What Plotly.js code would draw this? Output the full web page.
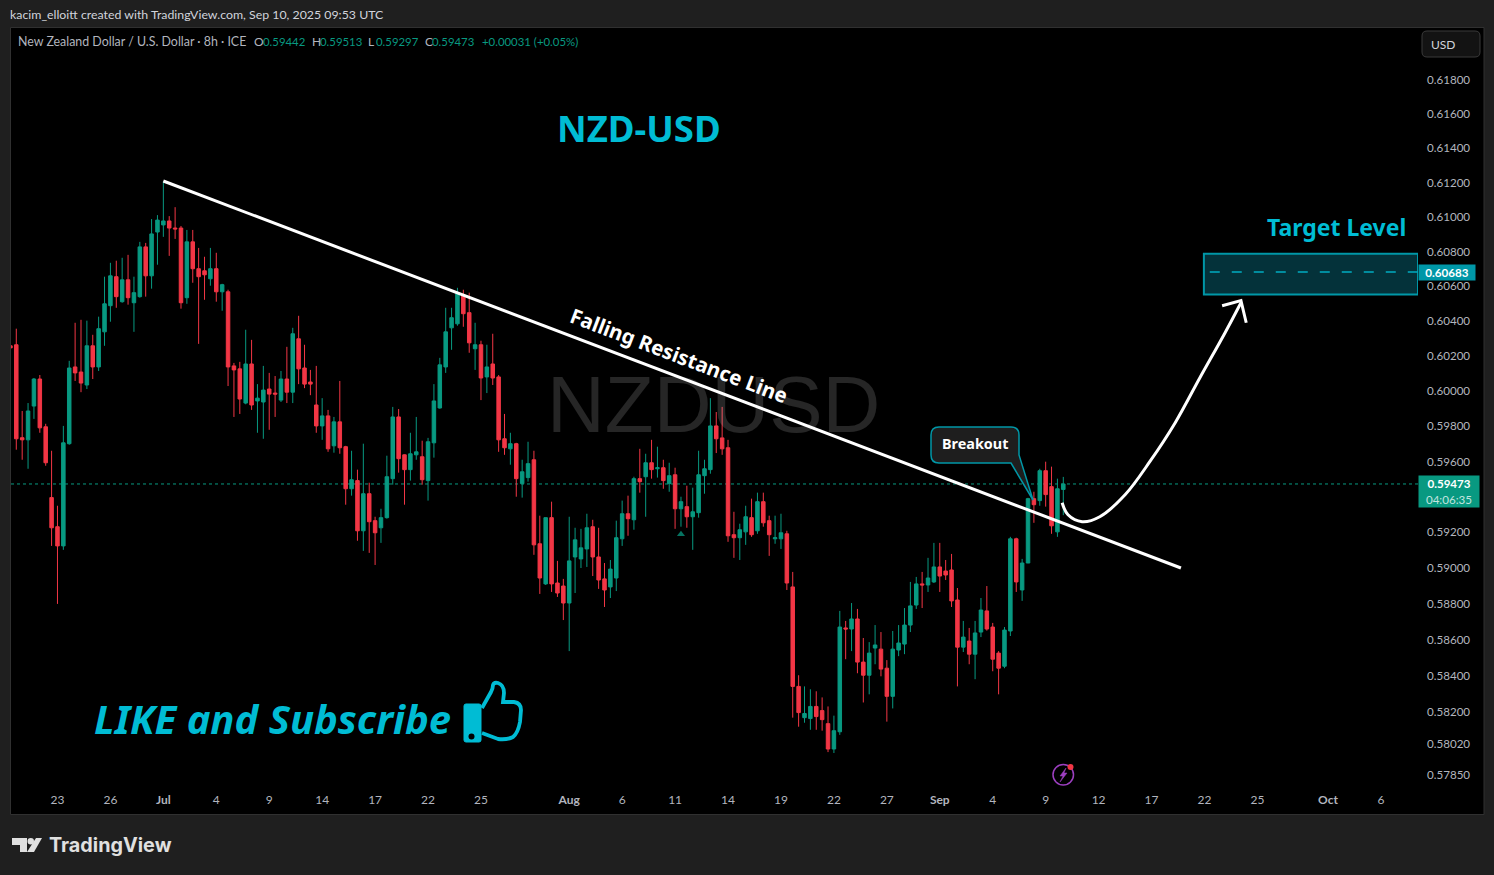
<!DOCTYPE html>
<html>
<head>
<meta charset="utf-8">
<title>NZD-USD</title>
<script src="https://cdn.plot.ly/plotly-3.0.1.min.js"></script>
<style>
html, body { margin: 0; padding: 0; background: #1f1f1f; }
#chart_holder { width: 1494px; height: 875px; }
</style>
</head>
<body>
<div id="chart_holder"></div>
<script>
// 8h candles, oldest first
let opens = [
0.60259,0.60265,0.59735,0.59723,0.59915,0.60069,0.59797,0.59396,0.59232,0.59124,
0.59701,0.60138,0.60109,0.60035,0.60259,0.60138,0.60339,0.60489,0.60656,0.60512,
0.60638,0.60506,0.60541,0.60828,0.60661,0.60914,0.60955,0.60978,0.60937,0.60937,
0.60535,0.60857,0.60702,0.60690,0.60644,0.60702,0.60569,0.60569,0.60144,0.60127,
0.59932,0.60155,0.59944,0.59938,0.60012,0.59989,0.59949,0.60069,0.59994,0.60299,
0.60132,0.60052,0.59921,0.59802,0.59859,0.59689,0.59825,0.59684,0.59446,0.59492,
0.59209,0.59418,0.59266,0.59226,0.59283,0.59503,0.59853,0.59638,0.59554,0.59638,
0.59627,0.59492,0.59706,0.59904,0.60138,0.60362,0.60385,0.60552,0.60449,0.60242,
0.60265,0.60081,0.60155,0.60081,0.59729,0.59672,0.59701,0.59475,0.59509,0.59610,
0.59136,0.58911,0.59283,0.58916,0.58899,0.58804,0.59062,0.59051,0.59107,0.59232,
0.59062,0.58939,0.58894,0.58944,0.59164,0.59305,0.59271,0.59503,0.59514,0.59593,
0.59559,0.59565,0.59475,0.59525,0.59333,0.59345,0.59288,0.59311,0.59520,0.59554,
0.59802,0.59734,0.59678,0.59187,0.59170,0.59203,0.59283,0.59209,0.59373,0.59266,
0.59164,0.59164,0.59192,0.58894,0.58340,0.58167,0.58162,0.58229,0.58206,0.58134,
0.57994,0.58089,0.58665,0.58659,0.58715,0.58475,0.58402,0.58553,0.58547,0.58441,
0.58285,0.58542,0.58575,0.58681,0.58793,0.58911,0.58905,0.58922,0.59006,0.58983,
0.58989,0.58821,0.58558,0.58592,0.58519,0.58642,0.58760,0.58670,0.58525,0.58452,
0.58648,0.59164,0.58877,0.59028,0.59390,0.59379,0.59548,0.59458,0.59203,0.59442];
let highs = [
0.60569,0.60357,0.59887,0.59932,0.60075,0.60092,0.59814,0.59661,0.59350,0.59802,
0.60173,0.60391,0.60408,0.60403,0.60322,0.60426,0.60656,0.60736,0.60748,0.60765,
0.60782,0.60656,0.60857,0.60851,0.60989,0.61012,0.61208,0.61006,0.61058,0.60949,
0.60926,0.60926,0.60822,0.60771,0.60822,0.60794,0.60615,0.60581,0.60161,0.60167,
0.60351,0.60293,0.60040,0.60144,0.60104,0.60086,0.60115,0.60253,0.60362,0.60431,
0.60265,0.60121,0.60144,0.59960,0.59893,0.59853,0.60058,0.59689,0.59661,0.59554,
0.59701,0.59480,0.59288,0.59333,0.59633,0.59910,0.59898,0.59640,0.59763,0.59853,
0.59718,0.59734,0.60040,0.60190,0.60477,0.60477,0.60592,0.60581,0.60564,0.60391,
0.60288,0.60265,0.60328,0.60092,0.59870,0.59763,0.59706,0.59610,0.59712,0.59661,
0.59294,0.59283,0.59373,0.59040,0.58939,0.59288,0.59226,0.59220,0.59305,0.59271,
0.59226,0.59028,0.59045,0.59266,0.59379,0.59407,0.59514,0.59672,0.59644,0.59723,
0.59684,0.59610,0.59593,0.59565,0.59401,0.59463,0.59452,0.59661,0.59610,0.59960,
0.59881,0.59910,0.59723,0.59316,0.59249,0.59350,0.59390,0.59424,0.59424,0.59294,
0.59294,0.59305,0.59209,0.58978,0.58402,0.58340,0.58324,0.58313,0.58279,0.58229,
0.58178,0.58760,0.58704,0.58804,0.58771,0.58609,0.58586,0.58681,0.58642,0.58486,
0.58648,0.58681,0.58776,0.58922,0.58950,0.58978,0.59057,0.59141,0.59141,0.59045,
0.59079,0.58888,0.58704,0.58665,0.58704,0.58832,0.58899,0.58693,0.58536,0.58670,
0.59175,0.59170,0.59051,0.59395,0.59429,0.59559,0.59599,0.59571,0.59503,0.59513];
let lows = [
0.60140,0.59667,0.59610,0.59559,0.59842,0.59763,0.59576,0.59124,0.58799,0.59102,
0.59695,0.60058,0.59994,0.60012,0.60069,0.60115,0.60259,0.60397,0.60477,0.60506,
0.60495,0.60339,0.60535,0.60541,0.60587,0.60725,0.60886,0.60776,0.60874,0.60472,
0.60500,0.60621,0.60270,0.60523,0.60604,0.60512,0.60460,0.60029,0.59853,0.59870,
0.59925,0.59893,0.59763,0.59729,0.59780,0.59853,0.59938,0.59932,0.59932,0.60040,
0.60017,0.59977,0.59763,0.59723,0.59655,0.59650,0.59644,0.59356,0.59407,0.59153,
0.59096,0.59085,0.59017,0.59141,0.59277,0.59469,0.59537,0.59356,0.59492,0.59610,
0.59469,0.59379,0.59622,0.59900,0.60104,0.60236,0.60374,0.60368,0.60219,0.60121,
0.59949,0.59989,0.60035,0.59655,0.59638,0.59582,0.59401,0.59396,0.59486,0.59074,
0.58855,0.58905,0.58866,0.58838,0.58709,0.58536,0.58860,0.59000,0.59006,0.58955,
0.58883,0.58782,0.58832,0.58871,0.59124,0.59181,0.59215,0.59424,0.59288,0.59503,
0.59509,0.59446,0.59429,0.59220,0.59232,0.59226,0.59102,0.59283,0.59418,0.59531,
0.59648,0.59638,0.59147,0.59057,0.59045,0.59130,0.59175,0.59192,0.59232,0.59068,
0.59136,0.59107,0.58877,0.58167,0.58117,0.58139,0.58100,0.58100,0.58095,0.57977,
0.57972,0.58072,0.58491,0.58536,0.58413,0.58251,0.58296,0.58463,0.58396,0.58145,
0.58218,0.58508,0.58519,0.58642,0.58771,0.58776,0.58866,0.58916,0.58866,0.58933,
0.58782,0.58340,0.58531,0.58463,0.58380,0.58614,0.58650,0.58424,0.58296,0.58441,
0.58620,0.58866,0.58816,0.59028,0.59254,0.59350,0.59345,0.59192,0.59175,0.59297];
let closes = [
0.60247,0.59729,0.59723,0.59887,0.60069,0.59791,0.59593,0.59226,0.59124,0.59706,
0.60132,0.60104,0.60046,0.60259,0.60138,0.60357,0.60500,0.60661,0.60541,0.60638,
0.60535,0.60564,0.60828,0.60661,0.60903,0.60983,0.60978,0.60937,0.60932,0.60506,
0.60857,0.60702,0.60656,0.60667,0.60702,0.60569,0.60610,0.60138,0.60121,0.59955,
0.60155,0.59921,0.59960,0.60006,0.59983,0.59983,0.60069,0.59994,0.60328,0.60127,
0.60040,0.60040,0.59802,0.59859,0.59672,0.59825,0.59678,0.59446,0.59497,0.59209,
0.59418,0.59260,0.59198,0.59283,0.59514,0.59853,0.59616,0.59554,0.59644,0.59655,
0.59497,0.59712,0.59944,0.60150,0.60339,0.60420,0.60558,0.60443,0.60276,0.60265,
0.60075,0.60138,0.60075,0.59723,0.59678,0.59701,0.59503,0.59542,0.59588,0.59130,
0.58944,0.59283,0.58911,0.58860,0.58804,0.59040,0.59158,0.59113,0.59226,0.59062,
0.58933,0.58877,0.58994,0.59170,0.59305,0.59277,0.59503,0.59486,0.59593,0.59554,
0.59565,0.59492,0.59520,0.59333,0.59373,0.59288,0.59316,0.59525,0.59559,0.59802,
0.59729,0.59672,0.59181,0.59170,0.59215,0.59288,0.59187,0.59373,0.59254,0.59187,
0.59170,0.59198,0.58916,0.58340,0.58195,0.58190,0.58229,0.58173,0.58156,0.57994,
0.58095,0.58670,0.58659,0.58715,0.58475,0.58402,0.58525,0.58570,0.58436,0.58285,
0.58547,0.58581,0.58681,0.58788,0.58911,0.58905,0.58944,0.59006,0.58955,0.58961,
0.58816,0.58558,0.58614,0.58519,0.58637,0.58765,0.58659,0.58491,0.58441,0.58653,
0.59164,0.58922,0.59028,0.59390,0.59356,0.59548,0.59413,0.59237,0.59446,0.59473];
let bar_index = opens.map(function(v, i) { return i; });

let time_ticks = [8, 17, 26, 35, 44, 53, 62, 71, 80, 95, 104, 113, 122, 131, 140, 149, 158, 167, 176, 185, 194, 203, 212, 224, 233];
let time_labels = ["23", "26", "<b>Jul</b>", "4", "9", "14", "17", "22", "25", "<b>Aug</b>", "6", "11", "14", "19", "22", "27", "<b>Sep</b>", "4", "9", "12", "17", "22", "25", "<b>Oct</b>", "6"];
let price_ticks = [0.618, 0.616, 0.614, 0.612, 0.61, 0.608, 0.606, 0.604, 0.602, 0.6, 0.598, 0.596, 0.592, 0.59, 0.588, 0.586, 0.584, 0.582, 0.5802, 0.5785];
let price_labels = ["0.61800", "0.61600", "0.61400", "0.61200", "0.61000", "0.60800", "0.60600", "0.60400", "0.60200", "0.60000", "0.59800", "0.59600", "0.59200", "0.59000", "0.58800", "0.58600", "0.58400", "0.58200", "0.58020", "0.57850"];

let trend_x = [26, 199];
let trend_y = [0.6121, 0.59];
let curve_x = [178.8, 179.8, 182.2, 185.2, 189.5, 193.7, 198, 202.2, 206.5, 209.2];
let curve_y = [0.59367, 0.59299, 0.5926, 0.59288, 0.59412, 0.59599, 0.59819, 0.60075, 0.60334, 0.60506];
let head_x = [206, 209.2, 210.1];
let head_y = [0.60489, 0.60518, 0.60391];
let signal_x = [114];
let signal_y = [0.5919];
let target_x = [202.9, 239.3];
let target_y = [0.60554, 0.60788];
let target_level = 0.60683;
let last_price = 0.59473;

let green = "#089981";
let red = "#f23645";
let cyan = "#00bcd4";
let teal = "#0097a7";
let ui_font = "Lato, 'Noto Sans', sans-serif";
let bold_font = "'Noto Sans', 'Open Sans', sans-serif";

// picture pixels to paper coordinates, plot area is 11..1418 x 28..814
function px(x) { return (x - 11) / 1407; }
function py(y) { return 1 - (y - 28) / 786; }
function pt(x, y) { return px(x) + "," + py(y); }

function polyPath(points, closed) {
    let s = "";
    for (let i = 0; i < points.length; i++) {
        s += (i == 0 ? "M" : "L") + pt(points[i][0], points[i][1]) + " ";
    }
    return s + (closed ? "Z" : "");
}

function roundRect(x0, y0, x1, y1, r) {
    return "M" + pt(x0 + r, y0) + " L" + pt(x1 - r, y0) + " Q" + pt(x1, y0) + " " + pt(x1, y0 + r) +
        " L" + pt(x1, y1 - r) + " Q" + pt(x1, y1) + " " + pt(x1 - r, y1) +
        " L" + pt(x0 + r, y1) + " Q" + pt(x0, y1) + " " + pt(x0, y1 - r) +
        " L" + pt(x0, y0 + r) + " Q" + pt(x0, y0) + " " + pt(x0 + r, y0) + " Z";
}

function paperShape(path, fill, color, width, extra) {
    return Object.assign({
        type: "path", xref: "paper", yref: "paper", path: path,
        fillcolor: fill, line: { color: color, width: width }
    }, extra || {});
}

function label(text, x, y, size, color, font, anchor, extra) {
    // left anchored annotations sit 2px right of the given x because of their padding
    let shift = (anchor || "left") == "left" ? -2 : 0;
    return Object.assign({
        text: text, xref: "paper", yref: "paper", x: px(x + shift), y: py(y),
        xanchor: anchor || "left", yanchor: "middle", showarrow: false,
        font: { size: size, color: color, family: font || ui_font }
    }, extra || {});
}

let data = [
    {
        type: "candlestick", x: bar_index, open: opens, high: highs, low: lows, close: closes,
        whiskerwidth: 0, hoverinfo: "skip",
        increasing: { line: { color: green, width: 1 }, fillcolor: green },
        decreasing: { line: { color: red, width: 1 }, fillcolor: red }
    },
    { type: "scatter", mode: "markers", x: signal_x, y: signal_y, hoverinfo: "skip",
      marker: { symbol: "triangle-up", size: 7, color: green, opacity: 0.75 } },
    { type: "scatter", mode: "lines", x: trend_x, y: trend_y, hoverinfo: "skip",
      line: { color: "#ffffff", width: 3 } },
    { type: "scatter", mode: "lines", x: curve_x, y: curve_y, hoverinfo: "skip",
      line: { color: "#ffffff", width: 3, shape: "spline", smoothing: 1 } },
    { type: "scatter", mode: "lines", x: head_x, y: head_y, hoverinfo: "skip",
      line: { color: "#ffffff", width: 3 } }
];

let bolt = [[1066, 768], [1060, 776], [1063, 776], [1060, 782], [1067, 773], [1064, 773]];
let tv_t = [[12, 838], [27, 838], [27, 852], [20, 852], [20, 845], [12, 845]];
let tv_v = [[36, 838], [42, 838], [34, 852], [27, 852]];

let thumb_path = "M" + pt(482, 708) + " L" + pt(491, 692) + " Q" + pt(493, 688) + " " + pt(493, 685) +
    " Q" + pt(494, 682) + " " + pt(498, 683) + " Q" + pt(504, 685) + " " + pt(504, 693) +
    " L" + pt(503, 702) + " L" + pt(514, 702) + " Q" + pt(521, 703) + " " + pt(521, 710) +
    " L" + pt(520, 722) + " Q" + pt(518, 733) + " " + pt(513, 737) + " Q" + pt(507, 740) + " " + pt(498, 739) +
    " L" + pt(482, 733);

let shapes = [
    // pane and frame
    paperShape(polyPath([[10.5, 27.5], [1484, 27.5], [1484, 814.5], [10.5, 814.5]], true), "#000000", "#303030", 1, { layer: "below" }),
    { type: "line", xref: "paper", yref: "y", x0: 0, x1: 1, y0: last_price, y1: last_price, layer: "below",
      line: { color: green, width: 1, dash: "dot" } },
    // target zone
    { type: "rect", xref: "x", yref: "y", x0: target_x[0], x1: target_x[1], y0: target_y[0], y1: target_y[1],
      fillcolor: "#04323a", line: { color: teal, width: 2 } },
    { type: "line", xref: "x", yref: "y", x0: target_x[0] + 1, x1: target_x[1], y0: target_level, y1: target_level,
      line: { color: "#00acc1", width: 1.5, dash: "10px,12px" } },
    // callout
    paperShape("M" + pt(939, 427) + " L" + pt(1011, 427) + " Q" + pt(1019, 427) + " " + pt(1019, 435) +
        " L" + pt(1019, 455) + " L" + pt(1033, 500) + " L" + pt(1011, 463) + " L" + pt(939, 463) +
        " Q" + pt(931, 463) + " " + pt(931, 455) + " L" + pt(931, 435) + " Q" + pt(931, 427) + " " + pt(939, 427) + " Z",
        "#1e1e1e", teal, 1.5),
    // USD button
    paperShape(roundRect(1422, 31, 1480, 57, 5), "#131313", "#3a3a3a", 1),
    // thumb
    paperShape(thumb_path, "rgba(0,0,0,0)", cyan, 3.8),
    paperShape(roundRect(464, 704, 481, 742, 2), cyan, cyan, 1),
    { type: "circle", xref: "paper", yref: "paper", x0: px(468.5), x1: px(474.5), y0: py(739.5), y1: py(733.5), fillcolor: "#000000", line: { width: 0 } },
    // news icon
    { type: "circle", xref: "paper", yref: "paper", x0: px(1053), x1: px(1073.5), y0: py(785), y1: py(764.5), fillcolor: "rgba(0,0,0,0)", line: { color: "#9c3fc0", width: 1.5 } },
    paperShape(polyPath(bolt, true), "#9c3fc0", "#9c3fc0", 0.5),
    { type: "circle", xref: "paper", yref: "paper", x0: px(1067.5), x1: px(1073.5), y0: py(770), y1: py(764), fillcolor: red, line: { width: 0 } },
    // TradingView logo
    paperShape(polyPath(tv_t, true), "#e0e0e0", "#e0e0e0", 0),
    paperShape(polyPath(tv_v, true), "#e0e0e0", "#e0e0e0", 0),
    { type: "circle", xref: "paper", yref: "paper", x0: px(27.5), x1: px(34), y0: py(844.5), y1: py(838), fillcolor: "#e0e0e0", line: { width: 0 } }
];

let legend_grey = "#b2b5be";
let annotations = [
    label("kacim_elloitt created with TradingView.com, Sep 10, 2025 09:53 UTC", 10, 14.5, 12.33, "#d1d4dc"),
    label("New Zealand Dollar / U.S. Dollar · 8h · ICE", 18, 42, 12.4, legend_grey),
    label("O", 254, 42, 12, legend_grey), label("0.59442", 263, 42, 11.4, green),
    label("H", 312, 42, 12, legend_grey), label("0.59513", 320, 42, 11.4, green),
    label("L", 368, 42, 12, legend_grey), label("0.59297", 376, 42, 11.4, green),
    label("C", 425, 42, 12, legend_grey), label("0.59473", 432, 42, 11.4, green),
    label("+0.00031 (+0.05%)", 482, 42, 11.4, green),
    label("USD", 1431, 44.5, 12, "#d1d4dc"),
    label("NZDUSD", 713, 404, 80, "rgba(255,255,255,0.15)", "'Liberation Sans', sans-serif", "center"),
    label("<b>NZD-USD</b>", 639, 128, 36.5, cyan, bold_font, "center"),
    label("<b>Target Level</b>", 1336, 227.5, 23, cyan, bold_font, "center"),
    label("<b><i>LIKE and Subscribe</i></b>", 94, 718, 40, cyan, bold_font),
    label("<b>Falling Resistance Line</b>", 678.5, 355, 20.4, "#ffffff", bold_font, "center", { textangle: 20.8 }),
    label("<b>Breakout</b>", 975, 444, 14.4, "#ffffff", bold_font, "center"),
    label("<b>0.60683</b>", 1447, 272.5, 11.6, "#ffffff", ui_font, "center",
        { bgcolor: teal, width: 56, height: 15, borderpad: 0 }),
    label("<b>0.59473</b><br><span style='color:rgba(255,255,255,0.75)'>04:06:35</span>", 1449, 491.5, 11.6, "#ffffff", ui_font, "center",
        { bgcolor: green, width: 60, height: 31, borderpad: 0 }),
    label("<b>TradingView</b>", 49, 845, 19.8, "#e0e0e0", "Inter, sans-serif")
];

let layout = {
    width: 1494, height: 875,
    paper_bgcolor: "#1f1f1f", plot_bgcolor: "#000000",
    margin: { l: 11, r: 76, t: 28, b: 61, pad: 0 },
    showlegend: false, dragmode: false, hovermode: false,
    font: { family: ui_font, color: legend_grey, size: 12 },
    boxgap: 0.15,
    xaxis: {
        type: "linear", range: [0.1, 239.3], rangeslider: { visible: false },
        showgrid: false, zeroline: false, showline: false, ticks: "",
        tickmode: "array", tickvals: time_ticks, ticktext: time_labels,
        ticklabelposition: "inside", ticklabelstandoff: 5, tickfont: { size: 12, color: legend_grey }
    },
    yaxis: {
        type: "log", side: "right", range: [-0.239299, -0.206864],
        showgrid: false, zeroline: false, showline: false, ticks: "",
        tickmode: "array", tickvals: price_ticks, ticktext: price_labels,
        ticklabelstandoff: 8, tickfont: { size: 11.6, color: legend_grey }
    },
    shapes: shapes,
    annotations: annotations
};

Plotly.newPlot("chart_holder", data, layout, { displayModeBar: false, staticPlot: true });
</script>
</body>
</html>
